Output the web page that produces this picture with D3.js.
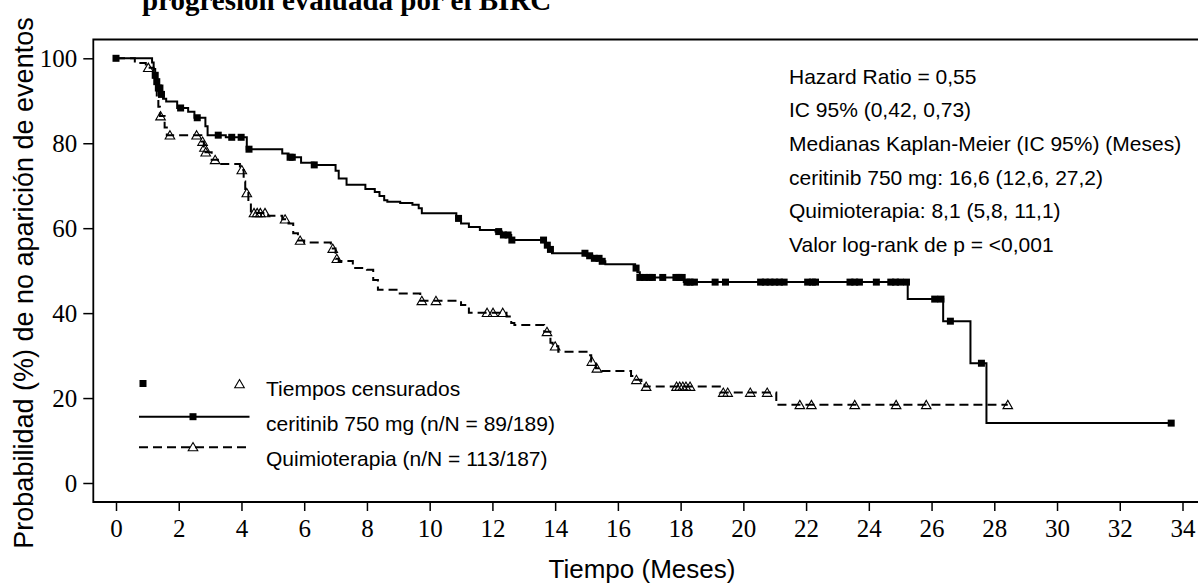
<!DOCTYPE html>
<html>
<head>
<meta charset="utf-8">
<script src="https://cdn.jsdelivr.net/npm/d3@7"></script>
<style>
  body { margin: 0; background: #fff; }
  svg { display: block; }
</style>
</head>
<body>
<div id="chart"></div>
<script>
// KM steps: [time (months), survival % after the event]
const ceritinibSteps = [
  [1.15, 99], [1.2, 97.5], [1.25, 96], [1.3, 94.5], [1.35, 93], [1.45, 91.5], [1.5, 90.5], [1.6, 89.8],
  [1.95, 88.3], [2.3, 87.4], [2.5, 86.0], [2.85, 84], [2.92, 81.9], [3.5, 81.4], [4.17, 78.6],
  [5.3, 77.6], [5.5, 76.7], [5.9, 75.4], [6.3, 74.9], [7.0, 73.5], [7.1, 71.7], [7.35, 70.2],
  [7.95, 69.2], [8.25, 68.5], [8.4, 67.6], [8.55, 66.6], [8.65, 66.2], [9.06, 65.9], [9.45, 65.5],
  [9.65, 64.7], [9.75, 63.5], [10.85, 62.3], [11.0, 61.1], [11.25, 60.3], [11.6, 59.6], [12.1, 59.2],
  [12.3, 58.4], [12.6, 57.2], [13.7, 56.0], [13.8, 55.0], [13.9, 54.1], [15.0, 53.5], [15.2, 52.9],
  [15.45, 52.2], [15.6, 51.5], [16.55, 50.6], [16.62, 49.6], [16.7, 48.4], [18.1, 47.3],
  [25.24, 43.3], [26.37, 38.1], [27.24, 28.2], [27.75, 14.1]
];
const ceritinibEnd = 33.64;
const ceritinibCensored = [
  0, 1.25, 1.3, 1.35, 1.4, 1.45, 2.06, 2.59, 3.26, 3.69, 3.99, 4.24, 5.55, 5.62, 6.32, 10.92,
  12.2, 12.35, 12.5, 12.62, 13.63, 13.75, 13.85, 14.95, 15.1, 15.25, 15.4, 15.5, 16.58, 16.7,
  16.85, 17.0, 17.1, 17.43, 17.85, 17.95, 18.05, 18.2, 18.3, 18.44, 19.1, 19.43, 20.55, 20.7,
  20.85, 21.0, 21.15, 21.3, 22.05, 22.2, 22.3, 23.4, 23.55, 23.7, 24.24, 24.7, 24.85, 25.0,
  25.2, 26.1, 26.3, 26.6, 27.59, 33.64
];

const chemoSteps = [
  [0.6, 98.9], [0.95, 97.8], [1.2, 95.5], [1.25, 93.2], [1.3, 90.9], [1.35, 88.6], [1.4, 86.4],
  [1.55, 83.7], [1.62, 81.9], [2.72, 80.4], [2.8, 79.0], [2.85, 77.9], [3.05, 76.1], [3.25, 75.1],
  [3.95, 73.7], [4.07, 71], [4.12, 68.3], [4.22, 66], [4.3, 63.6], [4.85, 62.9], [5.3, 62.1],
  [5.5, 61.1], [5.65, 58.8], [5.8, 57.1], [6.0, 56.6], [6.85, 55.2], [7.0, 52.8], [7.1, 52.3],
  [7.55, 50.6], [8.0, 50.2], [8.2, 47.8], [8.35, 45.5], [9.0, 44.6], [9.7, 42.9], [11.0, 41.9],
  [11.25, 40.1], [12.45, 39.2], [12.6, 37.7], [12.7, 37.2], [13.65, 35.6], [13.85, 33.0],
  [13.92, 32.2], [14.1, 30.9], [15.05, 30.1], [15.15, 28.6], [15.3, 27.0], [15.45, 26.4],
  [16.42, 25.2], [16.55, 24.3], [16.75, 23.5], [16.85, 22.7], [19.25, 21.3], [21.05, 18.4]
];
const chemoEnd = 28.43;
const chemoCensored = [
  1.03, 1.42, 1.72, 2.57, 2.76, 2.82, 2.86, 3.16, 4.01, 4.17, 4.4, 4.5, 4.6, 4.75, 5.39, 5.87,
  6.91, 7.04, 9.75, 10.2, 11.83, 12.02, 12.33, 13.74, 14.0, 15.17, 15.33, 16.59, 16.9, 17.87,
  17.97, 18.07, 18.17, 18.3, 19.36, 19.5, 20.22, 20.76, 21.8, 22.17, 23.55, 24.87, 25.83, 28.43
];

const xTicks = d3.range(0, 35, 2);
const yTicks = [0, 20, 40, 60, 80, 100];

const statsLines = [
  "Hazard Ratio = 0,55",
  "IC 95% (0,42, 0,73)",
  "Medianas Kaplan-Meier (IC 95%) (Meses)",
  "ceritinib 750 mg: 16,6 (12,6, 27,2)",
  "Quimioterapia: 8,1 (5,8, 11,1)",
  "Valor log-rank de p = <0,001"
];
const legendLabels = [
  "Tiempos censurados",
  "ceritinib 750 mg (n/N = 89/189)",
  "Quimioterapia (n/N = 113/187)"
];

const W = 1198, H = 583;
const frame = {left: 93.3, top: 39.5, bottom: 502, right: 1198};

const svg = d3.select("#chart").append("svg")
  .attr("width", W).attr("height", H);

const x = d3.scaleLinear().domain([0, 34]).range([116, 1182.5]);
const y = d3.scaleLinear().domain([0, 100]).range([483, 58.3]);

// title (cut off at the top in the original)
svg.append("text")
  .attr("x", 142).attr("y", 10)
  .attr("font-family", "'Liberation Serif', 'Times New Roman', serif")
  .attr("font-weight", "bold")
  .attr("font-size", 29)
  .text("progresión evaluada por el BIRC");

// frame
svg.append("path")
  .attr("d", `M${frame.right},${frame.top}H${frame.left}V${frame.bottom}H${frame.right}`)
  .attr("fill", "none").attr("stroke", "#000").attr("stroke-width", 1.8);

// x axis
const xAxis = svg.append("g")
  .attr("transform", `translate(0,${frame.bottom})`)
  .call(d3.axisBottom(x).tickValues(xTicks).tickSize(9).tickPadding(8).tickSizeOuter(0));
xAxis.select(".domain").remove();
xAxis.selectAll(".tick line").attr("stroke-width", 1.5);
xAxis.selectAll("text")
  .attr("font-family", "'Liberation Serif', 'Times New Roman', serif")
  .attr("font-size", 25).attr("fill", "#000");

// y axis
const yAxis = svg.append("g")
  .attr("transform", `translate(${frame.left},0)`)
  .call(d3.axisLeft(y).tickValues(yTicks).tickSize(10).tickPadding(6).tickSizeOuter(0));
yAxis.select(".domain").remove();
yAxis.selectAll(".tick line").attr("stroke-width", 1.5);
yAxis.selectAll("text")
  .attr("font-family", "'Liberation Serif', 'Times New Roman', serif")
  .attr("font-size", 25).attr("fill", "#000");

// axis titles
svg.append("text")
  .attr("x", 642).attr("y", 578)
  .attr("text-anchor", "middle")
  .attr("font-family", "'Liberation Sans', Arial, sans-serif")
  .attr("font-size", 26)
  .text("Tiempo (Meses)");

svg.append("text")
  .attr("transform", "translate(33,283) rotate(-90)")
  .attr("text-anchor", "middle")
  .attr("font-family", "'Liberation Sans', Arial, sans-serif")
  .attr("font-size", 27)
  .text("Probabilidad (%) de no aparición de eventos");

// KM curves
function kmPoints(steps, end) {
  const pts = [[0, 100]].concat(steps);
  pts.push([end, steps[steps.length - 1][1]]);
  return pts;
}
function survAt(steps, t) {
  let s = 100;
  steps.forEach(d => { if (d[0] <= t) s = d[1]; });
  return s;
}
const line = d3.line()
  .x(d => x(d[0])).y(d => y(d[1]))
  .curve(d3.curveStepAfter);

svg.append("path")
  .datum(kmPoints(chemoSteps, chemoEnd))
  .attr("d", line)
  .attr("fill", "none").attr("stroke", "#000").attr("stroke-width", 2)
  .attr("stroke-dasharray", "9,5");

svg.append("path")
  .datum(kmPoints(ceritinibSteps, ceritinibEnd))
  .attr("d", line)
  .attr("fill", "none").attr("stroke", "#000").attr("stroke-width", 2);

const sq = 7;
const triPath = "M0,-4.5L4.8,3.8L-4.8,3.8Z";

svg.append("g").selectAll("rect")
  .data(ceritinibCensored)
  .join("rect")
    .attr("x", d => x(d) - sq / 2)
    .attr("y", d => y(survAt(ceritinibSteps, d)) - sq / 2)
    .attr("width", sq).attr("height", sq)
    .attr("fill", "#000");

svg.append("g").selectAll("path")
  .data(chemoCensored)
  .join("path")
    .attr("transform", d => `translate(${x(d)},${y(survAt(chemoSteps, d))})`)
    .attr("d", triPath)
    .attr("fill", "none").attr("stroke", "#000").attr("stroke-width", 1.1);

// stats text
svg.append("g").selectAll("text")
  .data(statsLines)
  .join("text")
    .attr("x", 789)
    .attr("y", (d, i) => 83.5 + i * 33.7)
    .attr("font-family", "'Liberation Sans', Arial, sans-serif")
    .attr("font-size", 21)
    .text(d => d);

// legend
const legend = svg.append("g");
legend.append("rect").attr("x", 139.5).attr("y", 380).attr("width", sq).attr("height", sq).attr("fill", "#000");
legend.append("path").attr("transform", "translate(239.5,384)").attr("d", triPath)
  .attr("fill", "none").attr("stroke", "#000").attr("stroke-width", 1.1);
legend.append("line").attr("x1", 139).attr("x2", 249.5).attr("y1", 416.7).attr("y2", 416.7)
  .attr("stroke", "#000").attr("stroke-width", 2);
legend.append("rect").attr("x", 193 - sq / 2).attr("y", 416.7 - sq / 2).attr("width", sq).attr("height", sq).attr("fill", "#000");
legend.append("line").attr("x1", 139).attr("x2", 249.5).attr("y1", 447.3).attr("y2", 447.3)
  .attr("stroke", "#000").attr("stroke-width", 2).attr("stroke-dasharray", "9,5");
legend.append("path").attr("transform", "translate(193,447)").attr("d", triPath)
  .attr("fill", "none").attr("stroke", "#000").attr("stroke-width", 1.1);

legend.selectAll("text.lab")
  .data(legendLabels)
  .join("text")
    .attr("class", "lab")
    .attr("x", 266)
    .attr("y", (d, i) => 396 + i * 35)
    .attr("font-family", "'Liberation Sans', Arial, sans-serif")
    .attr("font-size", 21)
    .text(d => d);
</script>
</body>
</html>
